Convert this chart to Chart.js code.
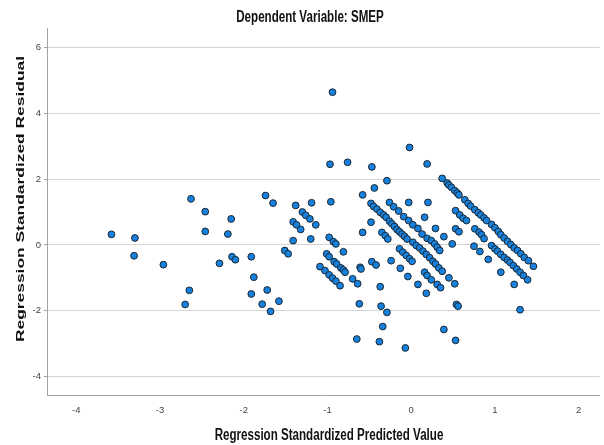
<!DOCTYPE html>
<html>
<head>
<meta charset="utf-8">
<script src="https://cdn.jsdelivr.net/npm/chart.js@4.4.0/dist/chart.umd.min.js"></script>
<style>
  body { margin: 0; background: #fff; }
  #wrap { width: 604px; height: 445px; }
</style>
</head>
<body>
<div id="wrap"><canvas id="scatter" width="604" height="445"></canvas></div>
<script>
const chartTitle = "Dependent Variable: SMEP";
const xTitle = "Regression Standardized Predicted Value";
const yTitle = "Regression Standardized Residual";
const xTicks = [-4, -3, -2, -1, 0, 1, 2];
const yTicks = [-4, -2, 0, 2, 4, 6];

// standardized predicted value (x) per case
const predicted = [
  -3.58,-3.30,-3.31,-2.96,-2.63,-2.46,-2.46,-2.29,-2.65,-2.70,
  -1.74,-1.65,-2.15,-2.19,-2.14,-2.10,-1.91,-1.88,-1.91,-1.72,
  -1.78,-1.68,-1.58,-1.51,-1.47,-1.41,-1.38,-1.19,-0.96,-1.41,
  -1.37,-1.32,-1.30,-1.26,-1.21,-1.14,-1.20,-0.98,-0.93,-0.90,
  -1.01,-0.98,-0.92,-0.89,-1.09,-1.03,-0.98,-0.94,-0.90,-0.85,
  -0.84,-0.81,-0.79,-0.81,-0.70,-0.64,-0.61,-0.60,-0.47,-0.42,
  -0.24,-0.13,-0.04,-0.37,-0.62,-0.36,-0.29,-0.34,-0.65,-0.38,
  -0.07,-0.94,-0.97,-0.76,-0.47,-0.29,-0.44,-0.58,
  -0.48,-0.45,-0.41,-0.37,-0.33,-0.30,-0.26,-0.23,-0.20,-0.17,-0.14,-0.11,-0.08,-0.05,
  0.02,0.06,0.10,0.14,0.18,0.22,0.26,0.29,0.33,0.37,
  -0.26,-0.21,-0.15,-0.09,-0.03,0.02,0.08,0.13,0.19,0.24,0.28,0.31,0.34,
  -0.35,-0.31,-0.28,-0.14,-0.10,-0.06,-0.02,0.01,
  0.16,0.19,0.24,0.31,0.35,
  0.08,0.18,
  0.45,0.52,0.39,0.49,0.54,0.56,0.39,0.53,-0.03,0.20,0.16,0.29,-0.02,0.19,0.37,-0.58,-0.48,
  0.43,0.45,0.48,0.52,0.55,0.57,0.64,0.68,0.71,0.76,0.80,0.83,0.87,0.90,0.96,1.00,1.04,1.07,1.11,1.15,
  1.19,1.23,1.27,1.31,1.35,1.40,1.46,
  0.53,0.58,0.62,0.66,0.76,0.81,0.84,0.87,0.96,1.00,1.03,1.07,1.11,1.15,1.18,1.22,1.26,1.30,1.34,1.39,
  0.53,0.57,0.75,0.82,0.92,1.07,1.23,1.30
];

// standardized residual (y) per case
const residual = [
  0.32,0.21,-0.33,-0.60,1.40,1.01,0.41,-0.56,-1.38,-1.81,
  1.50,1.27,0.79,0.33,-0.36,-0.45,-0.36,-0.98,-1.49,-1.37,
  -1.80,-2.02,-1.71,-0.17,-0.27,0.13,1.20,1.28,1.31,0.70,
  0.61,0.47,1.00,0.90,0.79,0.61,0.18,0.23,0.10,0.03,
  -0.27,-0.36,-0.51,-0.58,-0.66,-0.78,-0.91,-1.01,-1.10,-1.24,
  -0.70,-0.76,-0.83,-0.21,-1.03,-1.18,-0.68,-0.73,-0.51,-0.61,
  -0.48,-0.71,-0.96,-1.27,-1.79,-1.86,-2.05,-2.48,-2.86,-2.94,
  -3.13,4.64,2.45,2.51,2.37,1.95,1.73,1.52,
  1.26,1.17,1.09,0.99,0.91,0.84,0.72,0.64,0.56,0.47,0.40,0.33,0.26,0.18,
  0.08,-0.02,-0.09,-0.19,-0.29,-0.39,-0.50,-0.58,-0.70,-0.80,
  1.29,1.16,1.03,0.86,0.74,0.61,0.50,0.33,0.20,0.13,0.03,-0.07,-0.17,
  0.38,0.28,0.18,-0.12,-0.22,-0.32,-0.42,-0.50,
  -0.83,-0.93,-1.06,-1.20,-1.30,
  -1.20,-1.47,
  -1.00,-1.18,0.25,0.03,-1.81,-1.86,-2.57,-2.90,1.29,1.29,0.84,0.50,2.96,2.46,2.02,0.38,0.69,
  1.88,1.82,1.75,1.65,1.58,1.52,1.37,1.26,1.18,1.07,0.98,0.91,0.82,0.74,0.62,0.52,0.41,0.31,0.21,0.11,
  0.01,-0.09,-0.17,-0.27,-0.38,-0.48,-0.65,
  1.04,0.91,0.81,0.74,0.49,0.39,0.31,0.19,-0.02,-0.12,-0.19,-0.29,-0.38,-0.46,-0.53,-0.63,-0.73,-0.83,-0.93,-1.06,
  0.49,0.40,-0.04,-0.20,-0.44,-0.83,-1.20,-1.97
];

const sans = "'Liberation Sans', Arial, sans-serif";
const axisGrey = '#a3a3a3';
const gridGrey = '#d4d4d4';

let points = predicted.map((x, i) => ({ x: x, y: residual[i] }));

// SPSS export is stretched, so titles are drawn with a scale on the text
function drawStretched(c, text, x, y, angle, sx, sy) {
  c.save();
  c.translate(x, y);
  c.rotate(angle);
  c.scale(sx, sy);
  c.font = "bold 11.6px " + sans;
  c.fillStyle = '#111';
  c.textAlign = 'center';
  c.textBaseline = 'middle';
  c.fillText(text, 0, 0);
  c.restore();
}

const titlesPlugin = {
  id: 'spssTitles',
  afterDraw: (chart) => {
    const c = chart.ctx;
    drawStretched(c, chartTitle, 310, 17.5, 0, 1, 1.45);
    drawStretched(c, xTitle, 329, 435, 0, 1, 1.45);
    drawStretched(c, yTitle, 20.5, 199, -Math.PI / 2, 1.5, 1);
  }
};

let ctx1 = document.getElementById('scatter');
let myChart = new Chart(ctx1, {
  type: 'scatter',
  data: {
    datasets: [{
      data: points,
      backgroundColor: '#1681dc',
      borderColor: '#1b2733',
      borderWidth: 1,
      pointRadius: 3.4,
      pointHoverRadius: 3.4
    }]
  },
  options: {
    responsive: false,
    animation: false,
    layout: { padding: { top: 28, left: 0, right: 0, bottom: 0 } },
    plugins: {
      legend: { display: false },
      tooltip: { enabled: false },
      title: { display: false }
    },
    scales: {
      x: {
        type: 'linear',
        min: -4.35,
        max: 2.25,
        afterBuildTicks: (scale) => { scale.ticks = xTicks.map(v => ({ value: v })); },
        afterFit: (scale) => { scale.height = 50; },
        grid: { display: false, drawTicks: false },
        border: { display: true, color: axisGrey, width: 1 },
        ticks: {
          color: '#444',
          font: { family: sans, size: 9.5 },
          padding: 10,
          maxRotation: 0,
          callback: (v) => v
        }
      },
      y: {
        type: 'linear',
        min: -4.56,
        max: 6.59,
        afterBuildTicks: (scale) => { scale.ticks = yTicks.map(v => ({ value: v })); },
        afterFit: (scale) => { scale.width = 47; },
        grid: { color: gridGrey, lineWidth: 1, tickColor: axisGrey, tickLength: 3 },
        border: { display: true, color: axisGrey, width: 1 },
        ticks: {
          color: '#444',
          font: { family: sans, size: 9.5 },
          padding: 3,
          callback: (v) => v
        }
      }
    }
  },
  plugins: [titlesPlugin]
});
</script>
</body>
</html>
